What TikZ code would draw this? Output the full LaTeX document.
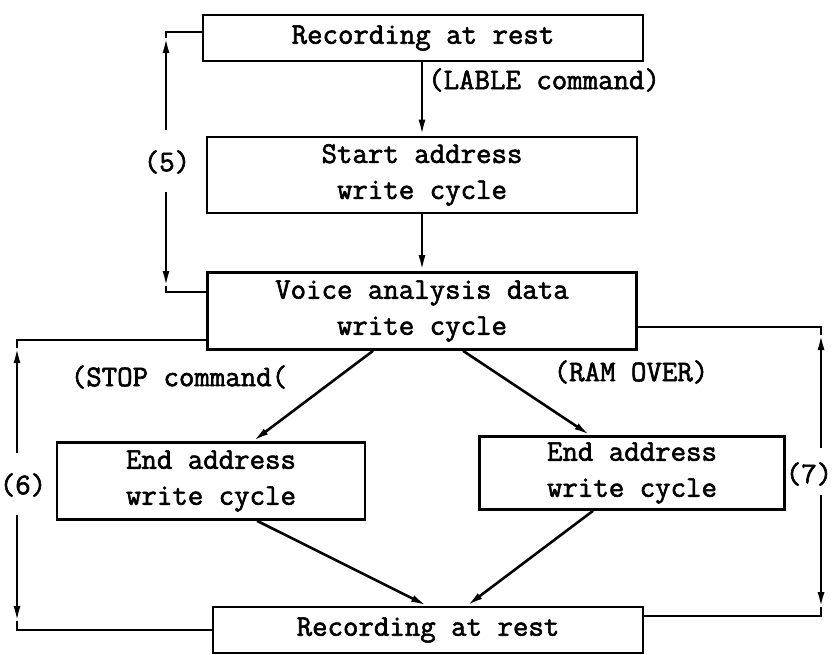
\documentclass[tikz,border=0pt]{standalone}
\usepackage{fontspec}
\usetikzlibrary{arrows.meta}
\newfontfamily\boxfont{Latin Modern Mono}[FakeBold=2]
\begin{document}
\begin{tikzpicture}[x=1pt,y=-1pt,
  every node/.style={font=\boxfont\fontsize{30}{36}\selectfont},
  box/.style={draw, line width=2.6pt, inner sep=0pt, align=center},
  conn/.style={line width=2.6pt},
  arr/.style={line width=2.6pt, -{Latex[length=16pt,width=7pt]}},
  lbl/.style={inner sep=0pt}]
\fill[white] (0,0) rectangle (834,654);
\useasboundingbox (0,0) rectangle (834,654);
% boxes
\node[box, minimum width=440pt, minimum height=46pt] (b1) at (423,38) {Recording at rest};
\node[box, minimum width=430pt, minimum height=76pt] (b2) at (422,175) {Start address\\write cycle};
\node[box, minimum width=429pt, minimum height=77pt] (b3) at (422,311) {Voice analysis data\\write cycle};
\node[box, minimum width=308pt, minimum height=77pt] (b4) at (211,481) {End address\\write cycle};
\node[box, minimum width=305pt, minimum height=73pt] (b5) at (632,473) {End address\\write cycle};
\node[box, minimum width=430pt, minimum height=46pt] (b6) at (428,630) {Recording at rest};
% labels
\node[lbl, anchor=west] (lab) at (428,80) {(LABLE command)};
\node[lbl] (l5) at (167,162) {(5)};
\node[lbl] (stop) at (179,377) {(STOP command(};
\node[lbl] (ram) at (631,372) {(RAM OVER)};
\node[lbl] (l6) at (23,485) {(6)};
\node[lbl] (l7) at (809,474) {(7)};
% main vertical arrows
\draw[arr] (b2.north |- b1.south) -- (b2.north);
\draw[arr] (b2.south) -- (b3.north);
% diagonal arrows
\draw[arr] ([xshift=-49pt]b3.south) -- ([xshift=42pt]b4.north);
\draw[arr] ([xshift=41pt]b3.south) -- ([xshift=-42pt]b5.north);
\draw[arr] ([xshift=46pt]b4.south) -- ([xshift=-1pt]b6.north);
\draw[arr] ([xshift=-39pt]b5.south) -- ([xshift=39pt]b6.north);
% loop (5)
\coordinate (p5a) at (166,32);
\coordinate (p5b) at (166,130);
\coordinate (p5c) at (166,192);
\coordinate (p5d) at (166,292);
\draw[arr] (p5b) -- ([yshift=-5pt]p5a);
\draw[conn] ([yshift=-6pt]p5a) -- (p5a) -- (p5a -| b1.west);
\draw[arr] (p5c) -- ([yshift=5pt]p5d);
\draw[conn] ([yshift=6pt]p5d) -- (p5d) -- (p5d -| b3.west);
% loop (6)
\coordinate (p6a) at (17,340);
\coordinate (p6b) at (17,453);
\coordinate (p6c) at (17,515);
\coordinate (p6d) at (17,630);
\draw[arr] (p6b) -- ([yshift=-7pt]p6a);
\draw[conn] ([yshift=-8pt]p6a) -- (p6a) -- (p6a -| b3.west);
\draw[arr] (p6c) -- ([yshift=8pt]p6d);
\draw[conn] ([yshift=9pt]p6d) -- (p6d) -- (p6d -| b6.west);
% loop (7)
\coordinate (p7a) at (821,327);
\coordinate (p7b) at (821,448);
\coordinate (p7c) at (821,495);
\coordinate (p7d) at (821,616);
\draw[arr] (p7b) -- ([yshift=-7pt]p7a);
\draw[conn] ([yshift=-8pt]p7a) -- (p7a) -- (p7a -| b3.east);
\draw[arr] (p7c) -- ([yshift=8pt]p7d);
\draw[conn] ([yshift=9pt]p7d) -- (p7d) -- (p7d -| b6.east);
\end{tikzpicture}
\end{document}
